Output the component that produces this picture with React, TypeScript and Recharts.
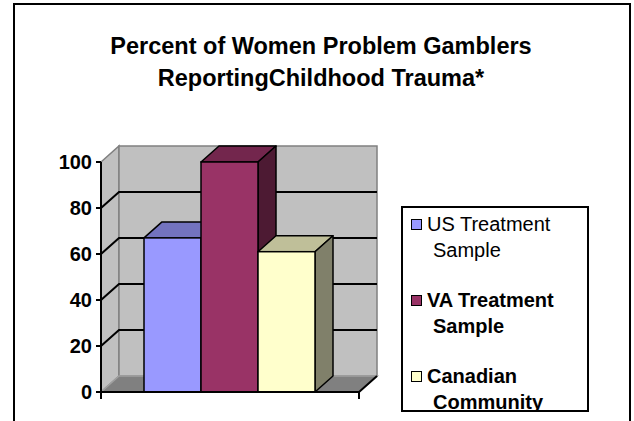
import React from 'react';
import { BarChart, Bar, XAxis, YAxis, ReferenceArea, ReferenceLine, Legend } from 'recharts';

const titleLines = ['Percent of Women Problem Gamblers', 'ReportingChildhood Trauma*'];
const categories = ['Childhood Trauma'];
const seriesNames = ['US Treatment Sample', 'VA Treatment Sample', 'Canadian Community'];
const usTreatment = [67];
const vaTreatment = [100];
const canadianCommunity = [61];
const yTicks = [0, 20, 40, 60, 80, 100];
const gridLevels = [20, 40, 60, 80];

const seriesKeys = ['us', 'va', 'ca'];
const frontColors = ['#9999FF', '#993366', '#FFFFCC'];
const topColors = ['#7373BF', '#73264D', '#BFBF99'];
const sideColors = ['#4D4D80', '#4D1A33', '#80806A'];
const legendWeights = [400, 700, 700];

const DX = 18;
const DY = 16;
const FONT = '"Liberation Sans", Arial, sans-serif';

const data = categories.map((name, i) => ({
  name,
  us: usTreatment[i],
  va: vaTreatment[i],
  ca: canadianCommunity[i],
}));

const Walls = (props: any) => {
  const { x, y, width, height } = props;
  const b = y + height;
  const r = x + width;
  return (
    <g>
      <polygon
        points={`${x},${y} ${x + DX},${y - DY} ${x + DX},${b - DY} ${x},${b}`}
        fill="#C0C0C0"
        stroke="#808080"
        strokeWidth={1.5}
      />
      <rect x={x + DX} y={y - DY} width={width} height={height} fill="#C0C0C0" stroke="#808080" strokeWidth={1.5} />
      <polygon
        points={`${x},${b} ${x + DX},${b - DY} ${r + DX},${b - DY} ${r},${b}`}
        fill="#808080"
        stroke="#A0A0A0"
        strokeWidth={1.5}
      />
      <line x1={r} y1={b} x2={r + DX} y2={b - DY} stroke="#000" strokeWidth={2} />
      <line x1={x} y1={b} x2={x} y2={b + 7} stroke="#000" strokeWidth={2} />
      <line x1={r} y1={b} x2={r} y2={b + 7} stroke="#000" strokeWidth={2} />
    </g>
  );
};

const GridShape = (props: any) => {
  const { x1, y1, x2, y2 } = props;
  return (
    <path
      d={`M${x1},${y1} L${x1 + DX},${y1 - DY} L${x2 + DX},${y2 - DY}`}
      fill="none"
      stroke="#000"
      strokeWidth={2}
    />
  );
};

const makeBarShape = (i: number) => (props: any) => {
  const { x, y, width, height } = props;
  const r = x + width;
  const b = y + height;
  return (
    <g>
      <polygon
        points={`${x},${y} ${x + DX},${y - DY} ${r + DX},${y - DY} ${r},${y}`}
        fill={topColors[i]}
        stroke="#000"
        strokeWidth={1.5}
        strokeLinejoin="round"
      />
      <polygon
        points={`${r},${y} ${r + DX},${y - DY} ${r + DX},${b - DY} ${r},${b}`}
        fill={sideColors[i]}
        stroke="#000"
        strokeWidth={1.5}
        strokeLinejoin="round"
      />
      <rect x={x} y={y} width={width} height={height} fill={frontColors[i]} stroke="#000" strokeWidth={1.5} />
    </g>
  );
};

const LegendBox = (props: any) => {
  const payload = [...(props.payload || [])].sort(
    (a: any, b: any) => seriesNames.indexOf(a.value) - seriesNames.indexOf(b.value)
  );
  return (
    <div
      style={{
        width: 188,
        height: 206,
        boxSizing: 'border-box',
        border: '2px solid #000',
        background: '#fff',
        overflow: 'hidden',
        paddingTop: 3,
        fontFamily: FONT,
        fontSize: 20,
        lineHeight: '26px',
        color: '#000',
      }}
    >
      {payload.map((entry: any) => {
        const si = seriesNames.indexOf(entry.value);
        return (
          <div key={entry.value} style={{ position: 'relative', marginBottom: 24, paddingLeft: 30, textIndent: -6 }}>
            <span
              style={{
                position: 'absolute',
                left: 8,
                top: 8,
                width: 9,
                height: 9,
                border: '1.5px solid #000',
                background: entry.color,
              }}
            />
            <span style={{ fontWeight: legendWeights[si] }}>{entry.value}</span>
          </div>
        );
      })}
    </div>
  );
};

export default function App() {
  return (
    <div style={{ position: 'absolute', left: 0, top: 0, width: 634, height: 421, overflow: 'hidden', background: '#fff' }}>
      <div
        style={{
          position: 'absolute',
          left: 13,
          top: 3,
          width: 618,
          height: 450,
          boxSizing: 'border-box',
          border: '2px solid #000',
        }}
      />
      <div
        style={{
          position: 'absolute',
          left: 0,
          top: 30,
          width: 642,
          textAlign: 'center',
          fontFamily: FONT,
          fontWeight: 700,
          fontSize: 23.5,
          lineHeight: '32px',
          color: '#000',
        }}
      >
        {titleLines.map((t, i) => (
          <div key={i}>{t}</div>
        ))}
      </div>
      <div style={{ position: 'absolute', left: 0, top: 0 }}>
        <BarChart
          width={634}
          height={421}
          data={data}
          margin={{ top: 162, right: 275, bottom: 28, left: 0 }}
          barCategoryGap={43}
          barGap={0}
        >
          <XAxis dataKey="name" tick={false} tickLine={false} axisLine={{ stroke: '#000', strokeWidth: 2 }} height={1} />
          <YAxis
            domain={[0, 100]}
            ticks={yTicks}
            interval={0}
            width={101}
            tickSize={5}
            tickMargin={4}
            axisLine={{ stroke: '#000', strokeWidth: 2 }}
            tickLine={{ stroke: '#000', strokeWidth: 2 }}
            tick={{ fontSize: 20, fontWeight: 700, fill: '#000', fontFamily: FONT }}
          />
          <ReferenceArea y1={0} y2={100} ifOverflow="visible" shape={Walls} zIndex={-50} />
          {gridLevels.map((lv) => (
            <ReferenceLine key={lv} y={lv} ifOverflow="visible" shape={GridShape} zIndex={-40} />
          ))}
          {seriesKeys.map((k, i) => (
            <Bar
              key={k}
              dataKey={k}
              name={seriesNames[i]}
              fill={frontColors[i]}
              shape={makeBarShape(i)}
              isAnimationActive={false}
            />
          ))}
          <Legend
            layout="vertical"
            align="center"
            verticalAlign="middle"
            content={LegendBox}
            itemSorter={null as any}
            wrapperStyle={{ left: 401, top: 206, width: 188, height: 206 }}
          />
        </BarChart>
      </div>
    </div>
  );
}
